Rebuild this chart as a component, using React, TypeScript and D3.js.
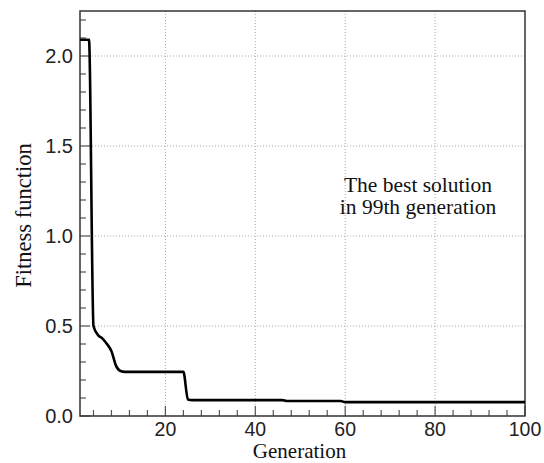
import React from "react";
import * as d3 from "d3";

const generations = [1, 2, 3, 4, 5, 6, 7, 8, 9, 10, 11, 24, 25, 26, 46, 47, 59, 60, 100];
const fitness = [2.09, 2.09, 2.09, 0.5, 0.45, 0.43, 0.4, 0.36, 0.28, 0.25, 0.245, 0.245, 0.092, 0.088, 0.088, 0.083, 0.083, 0.077, 0.077];
const xTicks = [20, 40, 60, 80, 100];
const yTicks = [0.0, 0.5, 1.0, 1.5, 2.0];
const xMinorTicks = [4, 8, 12, 16, 24, 28, 32, 36, 44, 48, 52, 56, 64, 68, 72, 76, 84, 88, 92, 96];
const yMinorTicks = [0.1, 0.2, 0.3, 0.4, 0.6, 0.7, 0.8, 0.9, 1.1, 1.2, 1.3, 1.4, 1.6, 1.7, 1.8, 1.9, 2.1, 2.2];
const annotation = ["The best solution", "in 99th generation"];

export default function App() {
  const W = 544, H = 463;
  const L = 80, R = 525, T = 11, B = 416;
  const x = d3.scaleLinear().domain([1, 100]).range([L, R]);
  const y = d3.scaleLinear().domain([0, 2.25]).range([B, T]);
  const pts = generations.map((g, i) => [g, fitness[i]] as [number, number]);
  const path = d3.line<[number, number]>().x(d => x(d[0])).y(d => y(d[1])).curve(d3.curveMonotoneX)(pts) || "";
  const serif = "'Liberation Serif', 'Times New Roman', serif";
  const sans = "'Liberation Sans', Arial, sans-serif";
  return (
    <svg width={W} height={H} style={{ position: "absolute", left: 0, top: 0, background: "#fff" }}>
      <rect x={0} y={0} width={W} height={H} fill="#fff" />
      {xTicks.filter(t => t < 100).map(t => (
        <line key={"gx" + t} x1={x(t)} x2={x(t)} y1={T} y2={B} stroke="#aaa" strokeWidth={1} strokeDasharray="1,2" />
      ))}
      {yTicks.filter(t => t > 0).map(t => (
        <line key={"gy" + t} x1={L} x2={R} y1={y(t)} y2={y(t)} stroke="#aaa" strokeWidth={1} strokeDasharray="1,2" />
      ))}
      {xMinorTicks.map(t => (
        <line key={"mx" + t} x1={x(t)} x2={x(t)} y1={B} y2={B - 6} stroke="#555" strokeWidth={1.2} />
      ))}
      {xTicks.map(t => (
        <line key={"tx" + t} x1={x(t)} x2={x(t)} y1={B} y2={B - 10} stroke="#555" strokeWidth={1.2} />
      ))}
      {yMinorTicks.map(t => (
        <line key={"my" + t} x1={L} x2={L + 6} y1={y(t)} y2={y(t)} stroke="#555" strokeWidth={1.2} />
      ))}
      {yTicks.map(t => (
        <line key={"ty" + t} x1={L} x2={L + 10} y1={y(t)} y2={y(t)} stroke="#555" strokeWidth={1.2} />
      ))}
      <rect x={L} y={T} width={R - L} height={B - T} fill="none" stroke="#333" strokeWidth={1.5} />
      <path d={path} fill="none" stroke="#000" strokeWidth={2.6} strokeLinejoin="round" />
      {xTicks.map(t => (
        <text key={"lx" + t} x={x(t)} y={B + 19.5} textAnchor="middle" fontFamily={sans} fontSize={19.5} fill="#222">{t}</text>
      ))}
      {yTicks.map(t => (
        <text key={"ly" + t} x={L - 7} y={y(t) + 7} textAnchor="end" fontFamily={sans} fontSize={20} fill="#222">{t.toFixed(1)}</text>
      ))}
      <text x={(L + R) / 2 - 3} y={458.3} textAnchor="middle" fontFamily={serif} fontSize={21} fill="#111">Generation</text>
      <text transform={`translate(31,${(T + B) / 2 + 2}) rotate(-90)`} textAnchor="middle" fontFamily={serif} fontSize={22.5} fill="#111">Fitness function</text>
      {annotation.map((s, i) => (
        <text key={"a" + i} x={418} y={192 + i * 22} textAnchor="middle" fontFamily={serif} fontSize={21.5} fill="#111">{s}</text>
      ))}
    </svg>
  );
}
